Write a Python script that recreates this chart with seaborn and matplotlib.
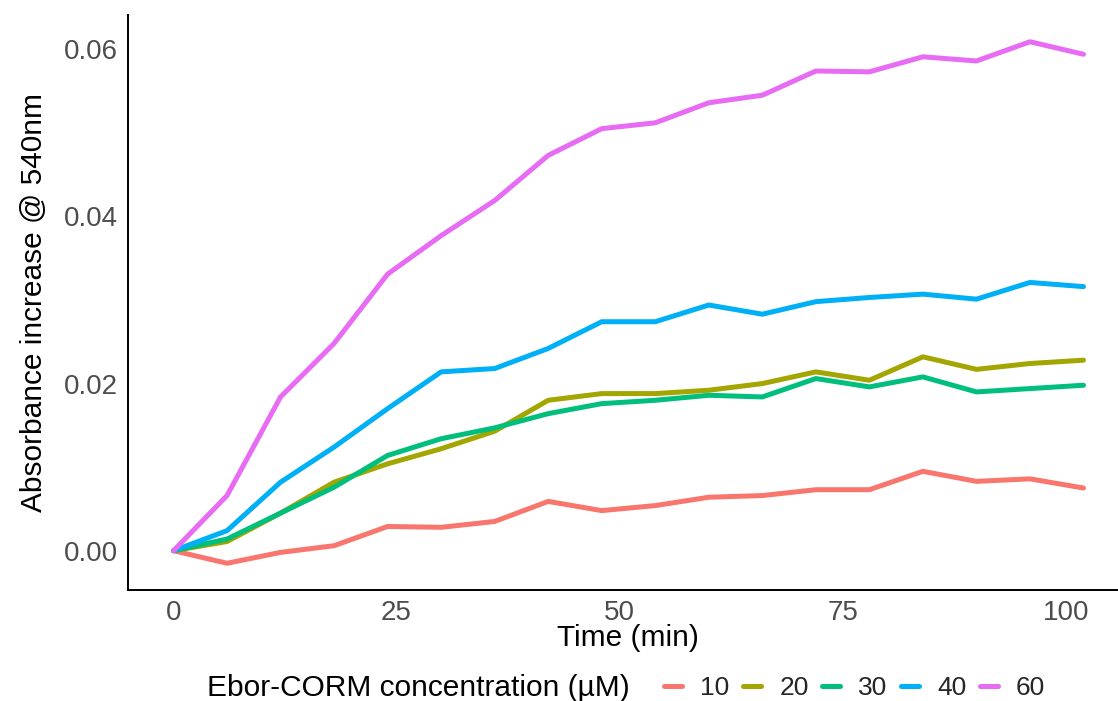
import numpy as np
import pandas as pd
import matplotlib
matplotlib.use("Agg")
import matplotlib.pyplot as plt
import seaborn as sns
from matplotlib.lines import Line2D

# ---- data ----
time_min = [0, 6, 12, 18, 24, 30, 36, 42, 48, 54, 60, 66, 72, 78, 84, 90, 96, 102]
conc_labels = ["10", "20", "30", "40", "60"]
abs_10 = [0.0, -0.0015, -0.0002, 0.0006, 0.0029, 0.0028, 0.0035, 0.0059, 0.0048, 0.0054,
          0.0064, 0.0066, 0.0073, 0.0073, 0.0095, 0.0083, 0.0086, 0.0075]
abs_20 = [0.0, 0.0011, 0.0045, 0.0082, 0.0104, 0.0122, 0.0143, 0.0180, 0.0188, 0.0188,
          0.0192, 0.0200, 0.0214, 0.0204, 0.0232, 0.0217, 0.0224, 0.0228]
abs_30 = [0.0, 0.0014, 0.0045, 0.0076, 0.0114, 0.0134, 0.0147, 0.0164, 0.0176, 0.0180,
          0.0186, 0.0184, 0.0206, 0.0196, 0.0208, 0.0190, 0.0194, 0.0198]
abs_40 = [0.0, 0.0024, 0.0082, 0.0124, 0.0170, 0.0214, 0.0218, 0.0242, 0.0274, 0.0274,
          0.0294, 0.0283, 0.0298, 0.0303, 0.0307, 0.0301, 0.0321, 0.0316]
abs_60 = [0.0, 0.0066, 0.0184, 0.0248, 0.0331, 0.0377, 0.0419, 0.0473, 0.0505, 0.0512,
          0.0536, 0.0545, 0.0574, 0.0573, 0.0591, 0.0586, 0.0609, 0.0594]
colors = ["#F8766D", "#A3A500", "#00BF7D", "#00B0F6", "#E76BF3"]

series = [abs_10, abs_20, abs_30, abs_40, abs_60]
df = pd.concat([
    pd.DataFrame({"Time": time_min, "Absorbance": vals, "Conc": lab})
    for lab, vals in zip(conc_labels, series)
], ignore_index=True)

sns.set_style("white")
plt.rcParams["font.family"] = ["Liberation Sans", "DejaVu Sans"]

W, H = 1118, 701
fig = plt.figure(figsize=(W / 100, H / 100), dpi=100)
ax = fig.add_axes([128 / W, 1 - 590 / H, (1129 - 128) / W, (590 - 15) / H])

palette = dict(zip(conc_labels, colors))
sns.lineplot(data=df, x="Time", y="Absorbance", hue="Conc", hue_order=conc_labels,
             palette=palette, linewidth=3.6, ax=ax, legend=False)

ax.set_xlim(-5.1, 107.1)
ax.set_ylim(-0.0047, 0.0641)
ax.set_xticks([0, 25, 50, 75, 100])
ax.set_xticklabels(["0", "25", "50", "75", "100"])
ax.set_yticks([0.0, 0.02, 0.04, 0.06])
ax.set_yticklabels(["0.00", "0.02", "0.04", "0.06"])

for s in ["top", "right"]:
    ax.spines[s].set_visible(False)
for s in ["left", "bottom"]:
    ax.spines[s].set_color("black")
    ax.spines[s].set_linewidth(1.4)

ax.tick_params(axis="both", which="major", length=4, width=1.0, color="#333333",
               labelsize=20, labelcolor="#4D4D4D", direction="out", pad=3)
ax.set_xlabel("Time (min)", fontsize=21.5, color="black")
ax.set_ylabel("Absorbance increase @ 540nm", fontsize=21.5, color="black")
ax.xaxis.set_label_coords((628 - 128) / (1129 - 128), -0.06)
ax.yaxis.set_label_coords((48 - 128) / (1129 - 128), 0.5)

# legend: title on the left, entries in a row
fig.text(207 / W, 1 - 688 / H, "Ebor-CORM concentration (µM)", fontsize=21.5,
         color="black", va="center", ha="left")
handles = [Line2D([0], [0], color=c, lw=3.6) for c in colors]
leg = fig.legend(handles, conc_labels, loc="center left", ncol=5,
                 bbox_to_anchor=(664 / W, 1 - 688 / H), frameon=False,
                 fontsize=19, handlelength=0.7, handletextpad=0.68,
                 columnspacing=0.5, borderaxespad=0, borderpad=0)

fig.savefig("out.png", dpi=100, facecolor="white")
